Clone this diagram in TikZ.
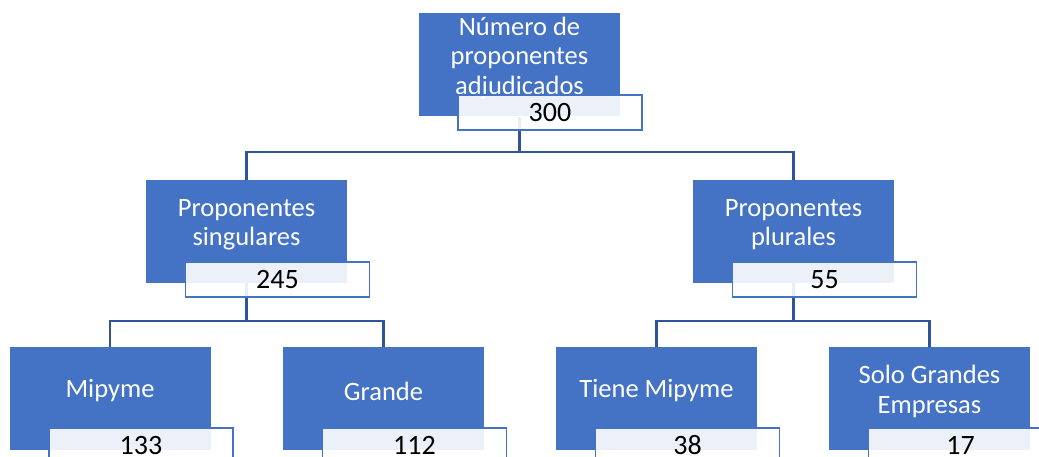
\documentclass[tikz,border=0pt]{standalone}
\usepackage{fontspec}
\setmainfont{Carlito}
\definecolor{boxblue}{HTML}{4472C4}
\definecolor{linkblue}{HTML}{2F5597}
\begin{document}
\begin{tikzpicture}[x=1pt,y=1pt,
  mainbox/.style={fill=boxblue, draw=none, minimum width=201pt, minimum height=103pt, inner sep=0pt},
  maintext/.style={text=white, align=center, font=\fontsize{26.5}{29.2}\selectfont, inner sep=0pt},
  numbox/.style={fill=white, fill opacity=0.9, text opacity=1, draw=boxblue, line width=1.8pt, minimum width=184pt, minimum height=35pt, inner sep=0pt, font=\fontsize{28}{30}\selectfont, text=black},
  link/.style={draw=linkblue, line width=2.2pt}]
\useasboundingbox (0,0) rectangle (1039,457);
\clip (0,0) rectangle (1039,457);
\fill[white] (0,0) rectangle (1039,457);
% main boxes
\node[mainbox] (top) at (519.5,392) {};
\node[mainbox] (sing) at (246.5,225.5) {};
\node[mainbox] (plur) at (793.5,225.5) {};
\node[mainbox] (mip) at (110,58.5) {};
\node[mainbox] (gra) at (383.5,58.5) {};
\node[mainbox] (tie) at (656.5,58.5) {};
\node[mainbox] (sol) at (929.5,58.5) {};
% texts
\node[maintext] (ttop) at (519.5,399) {Número de\\proponentes\\adjudicados};
\node[maintext] (tsing) at (246.5,232.5) {Proponentes\\singulares};
\node[maintext] (tplur) at (793.5,232.5) {Proponentes\\plurales};
\node[maintext] (tmip) at (110,66) {Mipyme};
\node[maintext] (tgra) at (383.5,66) {Grande};
\node[maintext] (ttie) at (656.5,66) {Tiene Mipyme};
\node[maintext] (tsol) at (929.5,65.5) {Solo Grandes\\Empresas};
% connectors
\coordinate (j1) at (519.5,305);
\coordinate (j2) at (246.5,136);
\coordinate (j3) at (793.5,136);
\draw[link] (top.south) -- (j1) -| (sing.north);
\draw[link] (j1) -| (plur.north);
\draw[link] (sing.south) -- (j2) -| (mip.north);
\draw[link] (j2) -| (gra.north);
\draw[link] (plur.south) -- (j3) -| (tie.north);
\draw[link] (j3) -| (sol.north);
% number boxes
\node[numbox] (ntop) at (550,344.5) {300};
\node[numbox] (nsing) at (277.5,177.5) {245};
\node[numbox] (nplur) at (824.5,177.5) {55};
\node[numbox] (nmip) at (141,11.5) {133};
\node[numbox] (ngra) at (414.5,11.5) {112};
\node[numbox] (ntie) at (687.5,11.5) {38};
\node[numbox] (nsol) at (960.5,11.5) {17};
\end{tikzpicture}
\end{document}
